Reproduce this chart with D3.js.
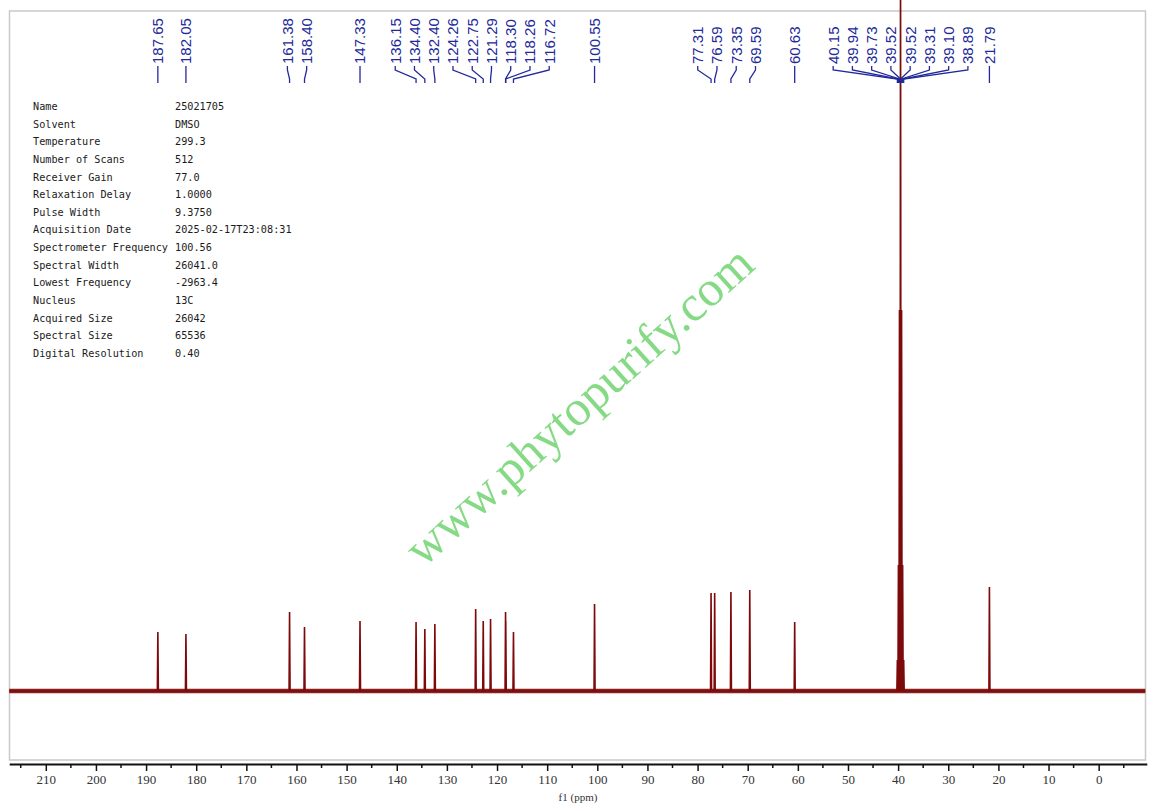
<!DOCTYPE html>
<html>
<head>
<meta charset="utf-8">
<script src="https://cdn.jsdelivr.net/npm/d3@7/dist/d3.min.js"></script>
<style>
  body { margin: 0; background: #fff; }
  svg { display: block; }
</style>
</head>
<body>
<script>
// 13C spectrum, peak list (height in plot units above baseline)
var peakShifts  = [187.65, 182.05, 161.38, 158.40, 147.33, 136.15, 134.40, 132.40, 124.26, 122.75,
                   121.29, 118.30, 118.26, 116.72, 100.55, 77.31, 76.59, 73.35, 69.59, 60.63,
                   40.15, 39.94, 39.73, 39.52, 39.31, 39.10, 38.89, 21.79];
var peakHeights = [59, 57, 79, 64, 70, 69, 62, 67, 82, 70,
                   72, 79, 70, 59, 87, 98, 98, 99, 101, 69,
                   31, 126, 381, 760, 381, 126, 31, 104];

// picked-peak labels (39.52 shows up twice in the list)
var labelShifts = [187.65, 182.05, 161.38, 158.40, 147.33, 136.15, 134.40, 132.40, 124.26, 122.75,
                   121.29, 118.30, 118.26, 116.72, 100.55, 77.31, 76.59, 73.35, 69.59, 60.63,
                   40.15, 39.94, 39.73, 39.52, 39.52, 39.31, 39.10, 38.89, 21.79];

var majorTicks = [210, 200, 190, 180, 170, 160, 150, 140, 130, 120, 110, 100, 90, 80, 70, 60, 50, 40, 30, 20, 10, 0];
var minorTicks = [215, 205, 195, 185, 175, 165, 155, 145, 135, 125, 115, 105, 95, 85, 75, 65, 55, 45, 35, 25, 15, 5, -5];

var paramNames  = ["Name", "Solvent", "Temperature", "Number of Scans", "Receiver Gain", "Relaxation Delay",
                   "Pulse Width", "Acquisition Date", "Spectrometer Frequency", "Spectral Width",
                   "Lowest Frequency", "Nucleus", "Acquired Size", "Spectral Size", "Digital Resolution"];
var paramValues = ["25021705", "DMSO", "299.3", "512", "77.0", "1.0000",
                   "9.3750", "2025-02-17T23:08:31", "100.56", "26041.0",
                   "-2963.4", "13C", "26042", "65536", "0.40"];

var width = 1157, height = 811;
var specColor = '#7d0a0a';
var labelColor = '#22299a';

var svg = d3.select("body").append("svg")
  .attr("width", width)
  .attr("height", height);

var x = d3.scaleLinear().domain([217.3, -9.6]).range([9.2, 1146.8]);
var y = d3.scaleLinear().domain([0, 680]).range([691, 11]);

// frame
svg.append("rect")
  .attr("x", 9.5).attr("y", 11)
  .attr("width", 1136).attr("height", 749)
  .attr("fill", "none")
  .attr("stroke", "#c9c9c9")
  .attr("stroke-width", 1.5);

// watermark
svg.append("text")
  .attr("transform", "translate(590,418) rotate(-42)")
  .attr("text-anchor", "middle")
  .attr("font-family", "Liberation Serif, serif")
  .attr("font-size", 50)
  .attr("fill", "#86da86")
  .text("www.phytopurify.com");

// parameter table
var params = svg.append("g").attr("class", "params")
  .attr("font-family", "DejaVu Sans Mono, monospace")
  .attr("font-size", 10.2)
  .attr("fill", "#1a1a1a");

params.selectAll("text.pname")
  .data(paramNames)
  .enter()
  .append("text")
  .attr("class", "pname")
  .attr("x", 33)
  .attr("y", function(d, i){ return 110 + i * 17.64; })
  .text(function(d){ return d; });

params.selectAll("text.pval")
  .data(paramValues)
  .enter()
  .append("text")
  .attr("class", "pval")
  .attr("x", 175)
  .attr("y", function(d, i){ return 110 + i * 17.64; })
  .text(function(d){ return d; });

// baseline (noise band)
svg.append("line")
  .attr("x1", x(217.3)).attr("x2", x(-9.3))
  .attr("y1", y(0)).attr("y2", y(0))
  .attr("stroke", specColor)
  .attr("stroke-width", 4.5)
  .attr("opacity", 0.9);

// spectrum: each peak drawn as a narrow spike over the baseline
var hw = 0.1;
var pts = [[217.3, 0]];
var order = d3.range(peakShifts.length).sort(function(a, b){ return peakShifts[b] - peakShifts[a]; });
order.forEach(function(i){
  pts.push([peakShifts[i] + hw, 0]);
  pts.push([peakShifts[i], peakHeights[i]]);
  pts.push([peakShifts[i] - hw, 0]);
});
pts.push([-9.3, 0]);

var line = d3.line()
  .x(function(d){ return x(d[0]); })
  .y(function(d){ return y(d[1]); });

svg.append("path")
  .datum(pts)
  .attr("d", line)
  .attr("fill", "none")
  .attr("stroke", specColor)
  .attr("stroke-width", 1.6)
  .attr("stroke-linejoin", "miter");

// peak labels - spread overlapping ones into centred clusters
var gap = 19.25;
var items = labelShifts.map(function(s){ return { ppm: s, px: x(s) }; })
  .sort(function(a, b){ return a.px - b.px; });

var clusters = [];
items.forEach(function(it){
  clusters.push({ items: [it], center: it.px });
  while (clusters.length > 1) {
    var b = clusters[clusters.length - 1],
        a = clusters[clusters.length - 2];
    var aRight = a.center + (a.items.length - 1) * gap / 2;
    var bLeft = b.center - (b.items.length - 1) * gap / 2;
    if (bLeft - aRight >= gap) break;
    var merged = a.items.concat(b.items);
    clusters.splice(-2, 2, { items: merged, center: d3.mean(merged, function(d){ return d.px; }) });
  }
});
clusters.forEach(function(c){
  c.items.forEach(function(it, i){
    it.lx = c.center + (i - (c.items.length - 1) / 2) * gap;
  });
});

var labels = svg.append("g").attr("class", "peak-labels");

labels.selectAll("path")
  .data(items)
  .enter()
  .append("path")
  .attr("d", function(d){
    return "M" + d.lx + ",66 L" + d.lx + ",70 L" + d.px + ",79 L" + d.px + ",83";
  })
  .attr("fill", "none")
  .attr("stroke", labelColor)
  .attr("stroke-width", 1.3);

labels.selectAll("text")
  .data(items)
  .enter()
  .append("text")
  .attr("transform", function(d){ return "translate(" + d.lx + ",64) rotate(-90)"; })
  .attr("dy", "0.36em")
  .attr("font-family", "Liberation Sans, Arial, sans-serif")
  .attr("font-size", 15)
  .attr("fill", labelColor)
  .text(function(d){ return d3.format(".2f")(d.ppm); });

// x axis
var axisG = svg.append("g")
  .attr("transform", "translate(0,764)");

axisG.call(d3.axisBottom(x)
  .tickValues(majorTicks)
  .tickSize(7)
  .tickSizeOuter(0)
  .tickPadding(4)
  .tickFormat(d3.format("d")));

axisG.select(".domain").attr("stroke", "#111").attr("stroke-width", 2);
axisG.selectAll(".tick line").attr("stroke", "#111").attr("stroke-width", 1.5);
axisG.selectAll(".tick text")
  .attr("font-family", "Liberation Serif, serif")
  .attr("font-size", 13)
  .attr("fill", "#333");

axisG.selectAll("line.minor")
  .data(minorTicks)
  .enter()
  .append("line")
  .attr("class", "minor")
  .attr("x1", function(d){ return x(d); })
  .attr("x2", function(d){ return x(d); })
  .attr("y1", 0).attr("y2", 4)
  .attr("stroke", "#111")
  .attr("stroke-width", 1.5);

svg.append("text")
  .attr("x", 578).attr("y", 801)
  .attr("text-anchor", "middle")
  .attr("font-family", "Liberation Serif, serif")
  .attr("font-size", 11)
  .attr("fill", "#333")
  .text("f1 (ppm)");
</script>
</body>
</html>
